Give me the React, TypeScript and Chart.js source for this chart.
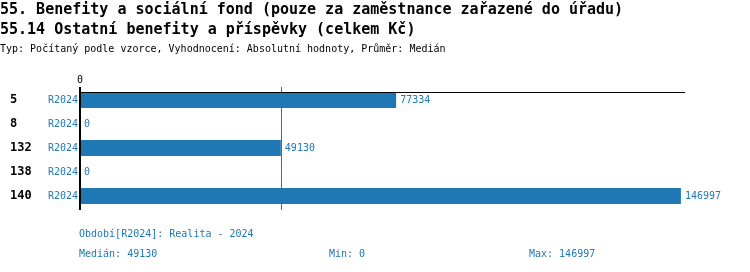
import React, { useEffect, useRef } from "react";
import { Chart, registerables } from "chart.js";

Chart.register(...registerables);

const titleLine1 = "55. Benefity a sociální fond (pouze za zaměstnance zařazené do úřadu)";
const titleLine2 = "55.14 Ostatní benefity a příspěvky (celkem Kč)";
const subtitle = "Typ: Počítaný podle vzorce, Vyhodnocení: Absolutní hodnoty, Průměr: Medián";
const ids = ["5", "8", "132", "138", "140"];
const periods = ["R2024", "R2024", "R2024", "R2024", "R2024"];
const values = [77334, 0, 49130, 0, 146997];
const medianValue = 49130;
const minValue = 0;
const maxValue = 146997;
const axisMax = 148000;
const periodNote = "Období[R2024]: Realita - 2024";

const BLUE = "#1f77b4";
const FONT = "'DejaVu Sans Mono', monospace";

export default function App() {
  const ref = useRef<HTMLCanvasElement | null>(null);

  useEffect(() => {
    document.body.style.margin = "0";
    const canvas = ref.current;
    if (!canvas) return;

    const overlay = {
      id: "overlay",
      afterDatasetsDraw(chart: any) {
        const { ctx, chartArea, scales } = chart;
        const xs = scales.x;
        const ys = scales.y;
        const x0 = Math.round(xs.getPixelForValue(0));
        ctx.save();
        // median line
        const xm = Math.round(xs.getPixelForValue(medianValue)) + 0.5;
        ctx.strokeStyle = BLUE;
        ctx.lineWidth = 1;
        ctx.beginPath();
        ctx.moveTo(xm, chartArea.top - 1);
        ctx.lineTo(xm, chartArea.bottom + 2);
        ctx.stroke();
        // top axis line
        ctx.strokeStyle = "#000";
        ctx.lineWidth = 1;
        ctx.beginPath();
        ctx.moveTo(x0, chartArea.top + 4.5);
        ctx.lineTo(chartArea.right, chartArea.top + 4.5);
        ctx.stroke();
        // zero axis line
        ctx.lineWidth = 2;
        ctx.beginPath();
        ctx.moveTo(x0, chartArea.top - 1);
        ctx.lineTo(x0, chartArea.bottom + 2);
        ctx.stroke();
        // tick label 0
        ctx.fillStyle = "#000";
        ctx.font = `10px ${FONT}`;
        ctx.textAlign = "center";
        ctx.textBaseline = "middle";
        ctx.fillText("0", x0, chartArea.top - 8);
        // row labels
        values.forEach((v, i) => {
          const y = ys.getPixelForValue(i);
          ctx.textBaseline = "middle";
          ctx.fillStyle = "#000";
          ctx.font = `bold 12px ${FONT}`;
          ctx.textAlign = "left";
          ctx.fillText(ids[i], 10, y);
          ctx.fillStyle = BLUE;
          ctx.font = `10px ${FONT}`;
          ctx.textAlign = "right";
          ctx.fillText(periods[i], x0 - 2, y);
          ctx.textAlign = "left";
          ctx.fillText(String(v), xs.getPixelForValue(v) + 4, y);
        });
        ctx.restore();
      },
    };

    const chart = new Chart(canvas, {
      type: "bar",
      data: {
        labels: ids,
        datasets: [
          {
            data: values,
            backgroundColor: BLUE,
            borderWidth: 0,
            barPercentage: 0.66,
            categoryPercentage: 1,
          },
        ],
      },
      options: {
        indexAxis: "y",
        animation: false,
        responsive: false,
        maintainAspectRatio: false,
        layout: { padding: { left: 80, right: 65, top: 88, bottom: 64 } },
        plugins: { legend: { display: false }, tooltip: { enabled: false } },
        scales: {
          x: { display: false, min: 0, max: axisMax },
          y: { display: false },
        },
      },
      plugins: [overlay],
    });
    return () => chart.destroy();
  }, []);

  const base: React.CSSProperties = {
    position: "absolute",
    whiteSpace: "nowrap",
    fontFamily: FONT,
  };

  return (
    <div style={{ position: "relative", width: 750, height: 272, background: "#fff" }}>
      <canvas ref={ref} width={750} height={272} style={{ position: "absolute", left: 0, top: 0 }} />
      <div style={{ ...base, left: 0, top: 0, fontSize: 15, fontWeight: "bold", lineHeight: "18px" }}>{titleLine1}</div>
      <div style={{ ...base, left: 0, top: 20, fontSize: 15, fontWeight: "bold", lineHeight: "18px" }}>{titleLine2}</div>
      <div style={{ ...base, left: 0, top: 42, fontSize: 10, lineHeight: "14px" }}>{subtitle}</div>
      <div style={{ ...base, left: 79, top: 227, fontSize: 10, lineHeight: "14px", color: BLUE }}>{periodNote}</div>
      <div style={{ ...base, left: 79, top: 247, fontSize: 10, lineHeight: "14px", color: BLUE }}>{`Medián: ${medianValue}`}</div>
      <div style={{ ...base, left: 329, top: 247, fontSize: 10, lineHeight: "14px", color: BLUE }}>{`Min: ${minValue}`}</div>
      <div style={{ ...base, left: 529, top: 247, fontSize: 10, lineHeight: "14px", color: BLUE }}>{`Max: ${maxValue}`}</div>
    </div>
  );
}
